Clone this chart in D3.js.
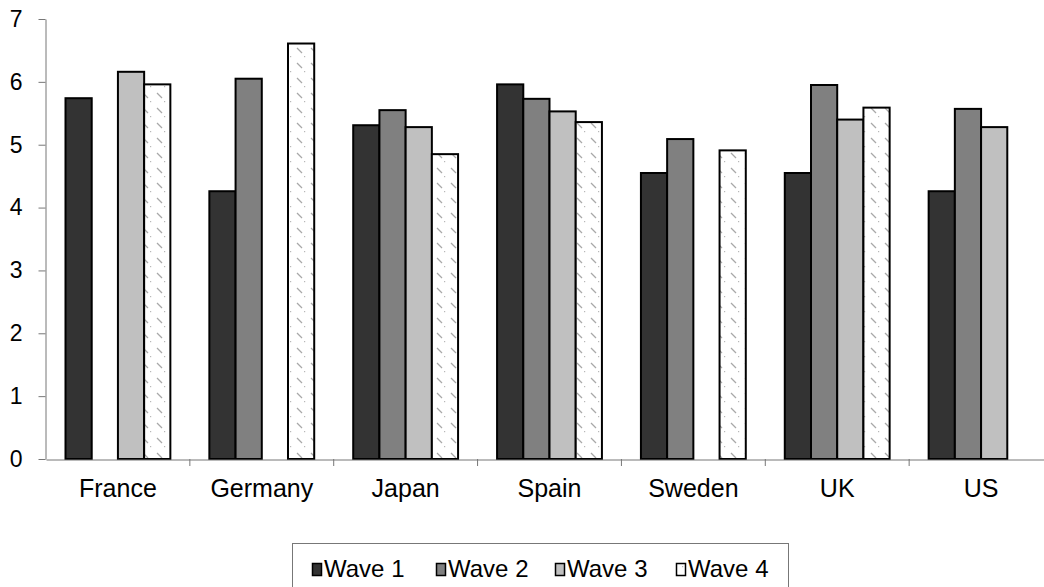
<!DOCTYPE html>
<html>
<head>
<meta charset="utf-8">
<script src="https://cdn.jsdelivr.net/npm/d3@7"></script>
<style>
  body { margin: 0; background: #fff; }
  text { font-family: Arial, "Liberation Sans", sans-serif; }
</style>
</head>
<body>
<div id="chart"></div>
<script>
// Chart data
const countries = ['France', 'Germany', 'Japan', 'Spain', 'Sweden', 'UK', 'US'];
const waves = ['Wave 1', 'Wave 2', 'Wave 3', 'Wave 4'];
const wave1 = [5.74, 4.26, 5.31, 5.96, 4.55, 4.55, 4.26];
const wave2 = [null, 6.05, 5.55, 5.73, 5.09, 5.95, 5.57];
const wave3 = [6.16, null, 5.28, 5.53, null, 5.40, 5.28];
const wave4 = [5.96, 6.61, 4.85, 5.36, 4.91, 5.59, null];
const yTicks = [0, 1, 2, 3, 4, 5, 6, 7];

const seriesValues = [wave1, wave2, wave3, wave4];
const fills = ['#333333', '#808080', '#c0c0c0', 'url(#dots)'];

const width = 1044;
const height = 587;

const svg = d3.select('#chart').append('svg')
  .attr('width', width)
  .attr('height', height);

// hatch pattern for wave 4
const pat = svg.append('defs').append('pattern')
  .attr('id', 'dots')
  .attr('patternUnits', 'userSpaceOnUse')
  .attr('width', 14)
  .attr('height', 15);
pat.append('rect').attr('width', 14).attr('height', 15).attr('fill', '#fff');
pat.append('line')
  .attr('x1', 3).attr('y1', 3).attr('x2', 8).attr('y2', 8)
  .attr('stroke', '#a8a8a8').attr('stroke-width', 1.2);
pat.append('rect')
  .attr('x', 10).attr('y', 11).attr('width', 1.2).attr('height', 1.2)
  .attr('fill', '#b8b8b8');

// scales
const xScale = d3.scaleBand()
  .domain(countries)
  .range([46, 1053])
  .padding(0);

const waveScale = d3.scaleBand()
  .domain(waves)
  .range([0, xScale.bandwidth()])
  .paddingInner(0)
  .paddingOuter(0.744);

const yScale = d3.scaleLinear()
  .domain([0, 7])
  .range([459, 19]);

// bars
waves.forEach((w, i) => {
  const rows = countries
    .map((c, j) => ({ country: c, value: seriesValues[i][j] }))
    .filter(d => d.value != null);

  svg.append('g')
    .selectAll('rect')
    .data(rows)
    .enter()
    .append('rect')
    .attr('x', d => xScale(d.country) + waveScale(w))
    .attr('y', d => yScale(d.value))
    .attr('width', waveScale.bandwidth())
    .attr('height', d => yScale(0) - yScale(d.value))
    .attr('fill', fills[i])
    .attr('stroke', '#000')
    .attr('stroke-width', 2);
});

// y axis
const yAxis = svg.append('g')
  .attr('transform', `translate(${xScale.range()[0] - 0.5}, 0)`)
  .call(d3.axisLeft(yScale).tickValues(yTicks).tickFormat(d3.format('d'))
    .tickSize(7).tickPadding(16).tickSizeOuter(0));
yAxis.attr('font-size', null).attr('font-family', null);
yAxis.selectAll('text').attr('font-size', 23).attr('fill', '#000');
yAxis.selectAll('line, path').attr('stroke', '#777');

// x axis
const xAxis = svg.append('g')
  .attr('transform', `translate(0, ${yScale(0) + 0.5})`)
  .call(d3.axisBottom(xScale).tickSize(0).tickPadding(20).tickSizeOuter(0));
xAxis.attr('font-size', null).attr('font-family', null);
xAxis.selectAll('text').attr('font-size', 25).attr('fill', '#000');
xAxis.select('.domain').attr('stroke', '#777');

// category separator ticks
const bounds = countries.slice(1).map(c => xScale(c));
svg.append('g')
  .selectAll('line')
  .data(bounds)
  .enter()
  .append('line')
  .attr('x1', d => d).attr('x2', d => d)
  .attr('y1', yScale(0)).attr('y2', yScale(0) + 7)
  .attr('stroke', '#777');

// legend
const legend = svg.append('g');
legend.append('rect')
  .attr('x', 292.5).attr('y', 543.5)
  .attr('width', 496).attr('height', 60)
  .attr('fill', '#fff')
  .attr('stroke', '#777');

const legendX = [312, 436, 555, 676];
waves.forEach((w, i) => {
  legend.append('rect')
    .attr('x', legendX[i] + 0.5).attr('y', 563.5)
    .attr('width', 9).attr('height', 12)
    .attr('fill', fills[i])
    .attr('stroke', '#000')
    .attr('stroke-width', 1.5);
  legend.append('text')
    .attr('x', legendX[i] + 12)
    .attr('y', 577)
    .attr('font-size', 24)
    .text(w);
});
</script>
</body>
</html>
